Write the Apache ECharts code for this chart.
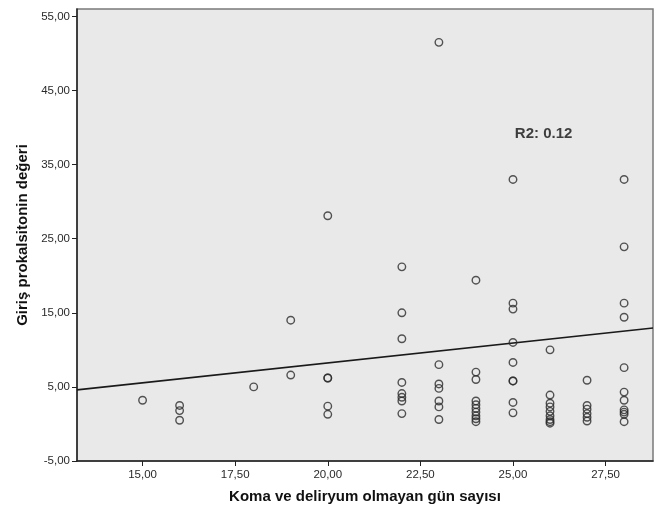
<!DOCTYPE html>
<html>
<head>
<meta charset="utf-8">
<script src="https://cdn.jsdelivr.net/npm/echarts@6/dist/echarts.min.js"></script>
<style>
  html, body { margin: 0; padding: 0; background: #fff; }
  #chart { width: 659px; height: 510px; }
</style>
</head>
<body>
<div id="chart"></div>
<script>
// days without coma/delirium -> admission procalcitonin values
const xGroups = [15, 16, 18, 19, 20, 22, 23, 24, 25, 26, 27, 28]
const yGroups = [
  [3.2],
  [2.5, 1.8, 0.5],
  [5.0],
  [14.0, 6.6],
  [28.1, 6.2, 6.2, 2.4, 1.3],
  [21.2, 15.0, 11.5, 5.6, 4.1, 3.6, 3.1, 1.4],
  [51.5, 8.0, 5.4, 4.8, 3.1, 2.3, 0.6],
  [19.4, 7.0, 6.0, 3.1, 2.6, 2.1, 1.6, 1.1, 0.7, 0.3],
  [33.0, 16.3, 15.5, 11.0, 8.3, 5.8, 5.8, 2.9, 1.5],
  [10.0, 3.9, 2.8, 2.3, 1.7, 1.1, 0.6, 0.3, 0.1],
  [5.9, 2.5, 2.0, 1.4, 0.9, 0.4],
  [33.0, 23.9, 16.3, 14.4, 7.6, 4.3, 3.2, 1.9, 1.6, 1.3, 0.3]
]

// fit line endpoints (read at plot edges)
const fitX = [13.23, 28.78]
const fitY = [4.6, 12.95]

const xTicks = [15, 17.5, 20, 22.5, 25, 27.5]
const yTicks = [-5, 5, 15, 25, 35, 45, 55]

const r2Label = 'R2: 0.12'
const r2Pos = [25.05, 39.1]

const points = []
xGroups.forEach((x, i) => yGroups[i].forEach(y => points.push([x, y])))

const fmt = v => v.toFixed(2).replace('.', ',')
const font = 'Liberation Sans, Arial, sans-serif'

const chart = echarts.init(document.getElementById('chart'), null, { renderer: 'canvas' })

chart.setOption({
  backgroundColor: '#fff',
  animation: false,
  grid: {
    left: 77, right: 6, top: 9, bottom: 49,
    show: true,
    backgroundColor: '#e9e9e9',
    borderColor: '#7a7a7a',
    borderWidth: 1.5
  },
  xAxis: {
    type: 'value',
    min: fitX[0],
    max: fitX[1],
    name: 'Koma ve deliryum olmayan gün sayısı',
    nameLocation: 'middle',
    nameGap: 28,
    nameTextStyle: { fontFamily: font, fontWeight: 'bold', fontSize: 15, color: '#111' },
    axisLine: { show: true, onZero: false, lineStyle: { color: '#222', width: 1.5 } },
    axisTick: { show: true, length: 5, customValues: xTicks, lineStyle: { color: '#222' } },
    axisLabel: {
      customValues: xTicks,
      formatter: fmt,
      margin: 8,
      fontFamily: font, fontSize: 11.5, color: '#2a2a2a'
    },
    splitLine: { show: false }
  },
  yAxis: {
    type: 'value',
    min: -5,
    max: 56,
    name: 'Giriş prokalsitonin değeri',
    nameLocation: 'middle',
    nameGap: 47,
    nameTextStyle: { fontFamily: font, fontWeight: 'bold', fontSize: 15, color: '#111' },
    axisLine: { show: true, onZero: false, lineStyle: { color: '#222', width: 1.5 } },
    axisTick: { show: true, length: 5, customValues: yTicks, lineStyle: { color: '#222' } },
    axisLabel: {
      customValues: yTicks,
      formatter: fmt,
      margin: 7,
      fontFamily: font, fontSize: 11.5, color: '#2a2a2a'
    },
    splitLine: { show: false }
  },
  series: [
    {
      type: 'line',
      data: fitX.map((x, i) => [x, fitY[i]]),
      showSymbol: false,
      lineStyle: { color: '#1a1a1a', width: 1.6 },
      silent: true,
      z: 3
    },
    {
      type: 'scatter',
      data: points,
      symbol: 'circle',
      symbolSize: 7.5,
      itemStyle: { color: 'transparent', borderColor: '#2a2a2a', borderWidth: 1.4 },
      z: 4
    },
    {
      type: 'scatter',
      data: [r2Pos],
      symbolSize: 0,
      silent: true,
      label: {
        show: true,
        position: 'right',
        distance: 0,
        formatter: r2Label,
        fontFamily: font, fontWeight: 'bold', fontSize: 15, color: '#111'
      }
    }
  ]
})
</script>
</body>
</html>
